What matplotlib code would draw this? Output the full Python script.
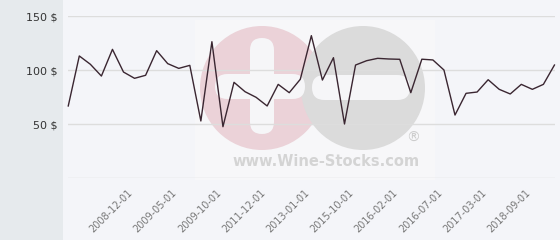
"""
Wine price history line chart (Wine-Stocks style), 560x240 px.
"""

import matplotlib
matplotlib.use("Agg")
import matplotlib.pyplot as plt
import matplotlib.patches as mpatches
import matplotlib.transforms as mtransforms

prices = [
    66.7, 113.0, 105.3, 94.4, 119.1, 98.1, 92.3, 95.1, 117.9, 105.9,
    101.5, 104.3, 52.8, 126.2, 47.5, 88.6, 79.9, 74.7, 66.7, 86.7,
    79.0, 91.4, 131.8, 90.7, 111.4, 50.0, 104.6, 108.6, 110.8, 110.2,
    109.9, 79.0, 110.0, 109.3, 100.0, 58.3, 78.4, 79.6, 91.0, 82.1,
    77.8, 86.7, 82.1, 86.7, 104.6,
]
tick_idx = [6, 10, 14, 18, 22, 26, 30, 34, 38, 42]
tick_labels = [
    "2008-12-01", "2009-05-01", "2009-10-01", "2011-12-01", "2013-01-01",
    "2015-10-01", "2016-02-01", "2016-07-01", "2017-03-01", "2018-09-01",
]
y_ticks = [0, 50, 100, 150]

BG = "#f4f5f9"
PANEL = "#e6eaed"
GRID = "#dddddd"
LINE = "#3a2631"

fig = plt.figure(figsize=(5.6, 2.4), dpi=100)
fig.patch.set_facecolor(BG)

# pixel coords (top-left origin) -> display
px = mtransforms.Affine2D().scale(1 / 560, -1 / 240).translate(0, 1) + fig.transFigure

# left grey panel
fig.patches.append(mpatches.Rectangle((0, 0), 63, 240, transform=px,
                                      facecolor=PANEL, edgecolor="none", zorder=0))

# watermark logo
fig.patches.append(mpatches.Rectangle((195, 20), 240, 160, transform=px,
                                      facecolor="#f7f7f9", edgecolor="none", zorder=0))
fig.patches.append(mpatches.Circle((262, 88), 62, transform=px,
                                   facecolor="#ebd2d8", edgecolor="none", zorder=1))
fig.patches.append(mpatches.Circle((363, 88), 62, transform=px,
                                   facecolor="#dbdbdb", edgecolor="none", zorder=1))
for (x0, y0, w, h) in [(250, 38, 24, 96), (215, 74, 90, 25), (312, 75, 98, 25)]:
    fig.patches.append(mpatches.FancyBboxPatch(
        (x0, y0), w, h, boxstyle=f"round,pad=0,rounding_size={min(w, h) / 2}",
        transform=px, facecolor="#f6f6f8", edgecolor="none", zorder=2))
fig.text(232 / 560, 1 - 161 / 240, "www.Wine-Stocks.com", fontsize=10.5,
         fontweight="bold", color="#d4d4d4", ha="left", va="center", zorder=2)
fig.text(413 / 560, 1 - 138 / 240, "®", fontsize=10, color="#cccccc",
         ha="center", va="center", zorder=2)

ax = fig.add_axes([67.7 / 560, 62 / 240, 487.3 / 560, 162 / 240])
ax.set_zorder(5)
ax.set_facecolor("none")
for s in ax.spines.values():
    s.set_visible(False)

for v in y_ticks:
    ax.axhline(v, color=GRID, linewidth=1, zorder=1)

ax.plot(range(len(prices)), prices, color=LINE, linewidth=1.0, zorder=3, clip_on=False)

ax.set_xlim(-0.05, len(prices) - 1 + 0.05)
ax.set_ylim(0, 150)

ax.set_yticks(y_ticks[1:])
ax.set_yticklabels([f"{v} $" for v in y_ticks[1:]], fontsize=8, color="#333333")
ax.tick_params(axis="y", length=0, pad=7)

ax.set_xticks(tick_idx)
ax.set_xticklabels(tick_labels, rotation=45, ha="right", va="top",
                   rotation_mode="anchor", fontsize=7, color="#777777")
ax.tick_params(axis="x", length=0, pad=7)
shift = mtransforms.ScaledTranslation(-7 / 100, 0, fig.dpi_scale_trans)
for lbl in ax.get_xticklabels():
    lbl.set_transform(lbl.get_transform() + shift)

fig.savefig("out.png", dpi=100, facecolor=fig.get_facecolor())
